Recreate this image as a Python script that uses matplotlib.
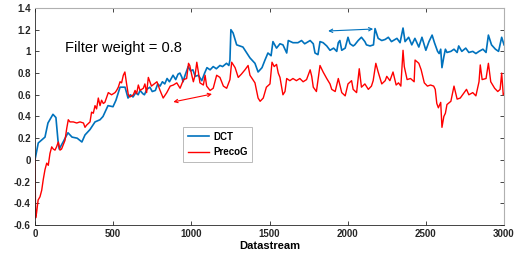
import numpy as np
import matplotlib
matplotlib.use("Agg")
import matplotlib.pyplot as plt

plt.rcParams['font.family'] = ['Liberation Sans', 'DejaVu Sans']

# DCT curve
dct_x = [0, 21, 64, 83, 115, 134, 147, 155, 180, 211, 237, 270, 300, 320, 352, 384,
         416, 435, 467, 499, 518, 544, 576, 595, 610, 627, 645, 660, 672, 690, 700,
         715, 735, 750, 770, 785, 800, 815, 830, 845, 860, 883, 900, 915, 927, 940,
         947, 960, 980, 995, 1010, 1025, 1045, 1067, 1085, 1100, 1120, 1140, 1160,
         1183, 1200, 1225, 1240, 1247, 1253,
         1267, 1290, 1310, 1330, 1355, 1375, 1407, 1427, 1452, 1471, 1490, 1510,
         1522, 1545, 1567, 1586, 1610, 1620, 1650, 1682, 1705,
         1725, 1760, 1780, 1791, 1810, 1823, 1843, 1866, 1887, 1910, 1930, 1940,
         1950, 1962, 1984, 2002, 2015, 2035, 2045, 2067, 2088, 2110, 2120, 2143,
         2165, 2175, 2195, 2218, 2240, 2260, 2280, 2315, 2335, 2354, 2367, 2390,
         2410, 2430, 2455, 2475, 2500, 2520, 2540, 2555, 2575, 2585, 2595, 2603,
         2615, 2625, 2635, 2660, 2680, 2700, 2710, 2730, 2755, 2775, 2800, 2820,
         2840, 2865, 2885, 2900, 2920, 2945, 2965, 2985, 3000]
dct_y = [0.0, 0.156, 0.21, 0.34, 0.42, 0.39, 0.18, 0.1, 0.165, 0.25, 0.21, 0.2, 0.165,
         0.23, 0.28, 0.35, 0.37, 0.4, 0.5, 0.49, 0.55, 0.67, 0.67, 0.57, 0.6, 0.58,
         0.62, 0.6, 0.64, 0.61, 0.6, 0.65, 0.67, 0.63, 0.64, 0.7, 0.68, 0.72, 0.7,
         0.75, 0.72, 0.78, 0.74, 0.79, 0.8, 0.76, 0.72, 0.78, 0.86, 0.82, 0.83, 0.77,
         0.78, 0.73, 0.8, 0.85, 0.83, 0.86, 0.84, 0.87, 0.86, 0.89, 0.87, 0.92, 1.2,
         1.17, 1.06, 1.05, 1.04, 0.985, 0.94, 0.89, 0.81, 0.85, 0.92, 0.985, 0.96,
         1.09, 1.03, 1.07, 1.06, 0.985, 1.1, 1.08, 1.08, 1.1,
         1.07, 1.1, 1.07, 0.985, 0.97, 1.09, 1.08, 1.05, 1.01, 1.03,
         1.0, 1.08, 1.1, 1.01, 1.03, 1.13, 1.07, 1.05, 1.06, 1.1, 1.13, 1.09, 1.06,
         1.05, 1.06, 1.21, 1.12, 1.1, 1.11, 1.13, 1.09, 1.12, 1.08, 1.215, 1.09, 1.13,
         1.06, 1.12, 1.04, 1.13, 1.01, 1.09, 1.15, 1.08, 1.0, 0.98, 1.02, 0.85, 0.95,
         1.02, 0.99, 1.0, 1.02, 0.99, 1.05, 1.0, 1.03, 0.99, 1.0, 0.98, 1.0, 1.02,
         0.99, 1.15, 1.06, 1.02, 1.0, 1.13, 1.06]

# PrecoG curve
preco_x = [0, 4, 10, 20, 32, 43, 53, 64, 75, 85, 96, 107, 117, 128, 138, 149, 160,
           170, 192, 203, 213, 224, 245, 267, 288, 310, 320, 330, 352, 362, 373, 384,
           394, 405, 416, 426, 437, 447, 469, 490, 512, 522, 533, 544, 554, 565, 575,
           586, 597, 607, 629, 640, 650, 661, 672, 693, 703, 714, 725, 745, 780, 800,
           820, 843, 865, 885, 907, 928, 950, 970, 982, 990, 1003, 1013, 1024, 1035,
           1045, 1055, 1077, 1088, 1098, 1120, 1140, 1162, 1183, 1205, 1226, 1247,
           1258, 1280, 1300, 1320, 1343, 1363, 1375, 1407, 1427, 1440,
           1460, 1480, 1503, 1516, 1530, 1545, 1556, 1567, 1586, 1599, 1610,
           1630, 1650, 1672, 1694, 1715, 1737, 1760, 1770, 1780, 1800, 1823, 1843,
           1866, 1887, 1898, 1920, 1940, 1962, 1984, 2002, 2025, 2035, 2057, 2074,
           2088, 2110, 2132, 2152, 2163, 2180, 2195, 2218, 2240, 2250, 2270, 2290,
           2310, 2325, 2340, 2354, 2362, 2380, 2402, 2425, 2431, 2455, 2470, 2490,
           2510, 2530, 2550, 2560, 2570, 2580, 2595, 2603, 2615, 2625, 2635, 2660,
           2680, 2700, 2720, 2745, 2760, 2775, 2800, 2820, 2840, 2848, 2860, 2885,
           2900, 2915, 2940, 2960, 2975, 2985, 2995, 3000]
preco_y = [0.017, -0.535, -0.49, -0.37, -0.34, -0.28, -0.18, -0.09, -0.03, -0.05, 0.06,
           0.12, 0.1, 0.09, 0.12, 0.165, 0.09, 0.1, 0.18, 0.29, 0.37, 0.35, 0.35, 0.34,
           0.35, 0.34, 0.3, 0.32, 0.35, 0.44, 0.43, 0.5, 0.47, 0.57, 0.5, 0.55, 0.52,
           0.53, 0.62, 0.6, 0.62, 0.64, 0.67, 0.72, 0.71, 0.78, 0.81, 0.7, 0.6, 0.58,
           0.6, 0.64, 0.61, 0.69, 0.64, 0.66, 0.7, 0.62, 0.76, 0.68, 0.72, 0.64, 0.57,
           0.62, 0.68, 0.69, 0.71, 0.66, 0.74, 0.75, 0.89, 0.87, 0.78, 0.72, 0.78, 0.9,
           0.81, 0.71, 0.69, 0.78, 0.68, 0.64, 0.66, 0.78, 0.76, 0.68, 0.66, 0.74, 0.9,
           0.85, 0.76, 0.79, 0.83, 0.87, 0.78, 0.71, 0.57, 0.54,
           0.57, 0.67, 0.7, 0.9, 0.86, 0.88, 0.8, 0.76, 0.6, 0.63, 0.75,
           0.73, 0.75, 0.73, 0.75, 0.72, 0.74, 0.83, 0.77, 0.67, 0.63, 0.87, 0.81,
           0.75, 0.7, 0.65, 0.63, 0.75, 0.62, 0.59, 0.7, 0.73, 0.65, 0.62, 0.84,
           0.67, 0.7, 0.65, 0.68, 0.73, 0.89, 0.81, 0.7, 0.73, 0.77, 0.73, 0.81,
           0.69, 0.71, 0.68, 1.01, 0.86, 0.74, 0.75, 0.72, 0.92, 0.89, 0.83, 0.71,
           0.68, 0.69, 0.68, 0.65, 0.52, 0.48, 0.53, 0.3, 0.4, 0.43, 0.51, 0.54,
           0.68, 0.56, 0.57, 0.62, 0.65, 0.6, 0.62, 0.59, 0.72, 0.875, 0.74, 0.75,
           0.89, 0.72, 0.66, 0.63, 0.65, 0.8, 0.6, 0.61]

xticks = [0, 500, 1000, 1500, 2000, 2500, 3000]
yticks = [-0.6, -0.4, -0.2, 0, 0.2, 0.4, 0.6, 0.8, 1, 1.2, 1.4]

fig = plt.figure(figsize=(5.3, 2.57), dpi=100)
ax = fig.add_axes([0.066, 0.1245, 0.885, 0.8445])

ax.plot(dct_x, dct_y, color='#0072BD', lw=1.2, label='DCT')
ax.plot(preco_x, preco_y, color='#FF0000', lw=1.0, label='PrecoG')

ax.set_xlim(0, 3000)
ax.set_ylim(-0.6, 1.4)
ax.set_xticks(xticks)
ax.set_yticks(yticks)
ax.set_yticklabels([f"{v:g}" for v in yticks])
ax.tick_params(direction='in', length=3, width=0.6, labelsize=7, top=True, right=True,
               colors='#262626', pad=3)
for lab in ax.get_xticklabels() + ax.get_yticklabels():
    lab.set_fontweight('bold')
for s in ['left', 'bottom']:
    ax.spines[s].set_color('#262626')
    ax.spines[s].set_linewidth(0.6)
for s in ['top', 'right']:
    ax.spines[s].set_color('#b0b0b0')
    ax.spines[s].set_linewidth(0.8)

ax.set_xlabel('Datastream', fontsize=8, fontweight='bold', labelpad=1)

ax.text(192, 1.03, 'Filter weight = 0.8', fontsize=10.5, va='center', ha='left')

# arrows
ax.annotate('', xy=(1132, 0.607), xytext=(885, 0.534),
            arrowprops=dict(arrowstyle='<->', color='#FF0000', lw=0.8,
                            shrinkA=0, shrinkB=0, mutation_scale=6))
ax.annotate('', xy=(2163, 1.206), xytext=(1875, 1.188),
            arrowprops=dict(arrowstyle='<->', color='#0072BD', lw=0.8,
                            shrinkA=0, shrinkB=0, mutation_scale=6))

leg = ax.legend(loc='upper left', bbox_to_anchor=(0.305, 0.475),
                prop={'weight': 'bold', 'size': 7}, fancybox=False, framealpha=1,
                edgecolor='#b0b0b0', handlelength=2.2, borderpad=0.5,
                labelspacing=0.6, handletextpad=0.4)
leg.get_frame().set_linewidth(0.6)

fig.savefig('out.png', dpi=100)
